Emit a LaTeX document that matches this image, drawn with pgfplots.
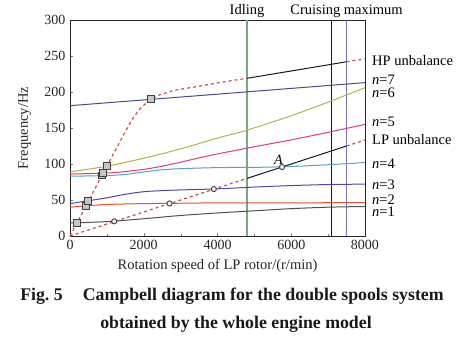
\documentclass[border=0pt]{standalone}
\usepackage{fontspec}
\setmainfont{Liberation Serif}
\usepackage{pgfplots}
\pgfplotsset{compat=1.18}
\definecolor{c1}{HTML}{505050}
\definecolor{c2}{HTML}{E8502A}
\definecolor{c3}{HTML}{5545B0}
\definecolor{c4}{HTML}{5AA0C8}
\definecolor{c5}{HTML}{E03C78}
\definecolor{c6}{HTML}{B8B050}
\definecolor{c7}{HTML}{4A4A90}
\definecolor{unb}{HTML}{C8504A}
\definecolor{idl}{HTML}{72AA86}
\definecolor{cru}{HTML}{8070B8}
\begin{document}
\begin{tikzpicture}
\useasboundingbox (-70pt,-106pt) rectangle (401pt,236pt);
\begin{axis}[
  at={(0pt,0pt)}, anchor=south west,
  scale only axis, width=295pt, height=216pt,
  xmin=0, xmax=8000, ymin=0, ymax=300,
  xtick={0,2000,4000,6000,8000},
  minor xtick={1000,3000,5000,7000},
  ytick={0,50,100,150,200,250,300},
  xtick pos=left, ytick pos=left,
  tick align=inside,
  major tick length=3pt, minor tick length=2pt,
  scaled x ticks=false,
  /pgf/number format/1000 sep={},
  /pgf/number format/assume math mode=true,
  tick label style={font=\fontsize{14}{16}\selectfont, text=black!85},
  xticklabel style={yshift=-1pt},
  yticklabel style={xshift=-1pt},
  axis line style={line width=0.9pt, black!85},
  clip=false,
  every axis plot/.append style={line width=1pt},
]
% vertical operating lines
\addplot[idl, line width=1.1pt] coordinates {(4800,0) (4800,300)};
\addplot[black!90, line width=1pt] coordinates {(7100,0) (7100,300)};
\addplot[cru, line width=1pt] coordinates {(7500,0) (7500,300)};
% modes
\addplot[c1, smooth] coordinates {(0,18) (1000,20) (2000,24) (3000,28.5) (4000,32) (5000,35) (6000,38) (7000,40) (8000,41)};
\addplot[c2, smooth] coordinates {(0,40) (500,42) (1000,43.8) (2000,45) (3000,45.5) (4000,46) (6000,46) (8000,46.5)};
\addplot[c3, smooth] coordinates {(0,45) (500,49) (1000,53) (1500,58) (2000,61.5) (2500,63) (3000,64) (4000,65.5) (5000,68) (6000,70) (7000,71.5) (8000,72)};
\addplot[c4, smooth] coordinates {(0,83) (1000,84) (1500,85.5) (2000,89) (2500,92) (3000,93.5) (4000,95) (5000,95.3) (6000,96.5) (7000,99) (8000,102)};
\addplot[c5, smooth] coordinates {(0,86) (1000,87.5) (1500,89.5) (2000,92.5) (2500,97) (3000,102.5) (3500,108.5) (4000,114) (4500,119) (5000,124) (6000,133.5) (7000,144) (8000,155)};
\addplot[c6, smooth] coordinates {(0,89) (1000,97) (2000,108) (3000,121) (4000,136) (4800,147) (6000,167) (7000,186) (8000,206)};
\addplot[c7] coordinates {(0,181) (8000,213)};
% HP unbalance
\addplot[unb, line width=1.2pt, dash pattern=on 3pt off 3pt] coordinates {(0,0) (1000,97) (1500,145) (1700,163) (1900,177) (2100,186) (2200,190) (2400,195.5) (2800,202) (3200,205.5) (3600,209) (4000,212.5) (4400,216) (4800,219)};
\addplot[black!90] coordinates {(4800,219) (7500,242)};
\addplot[unb, line width=1.2pt, dash pattern=on 3pt off 3pt] coordinates {(7500,242) (8000,246)};
% LP unbalance
\addplot[unb, line width=1.2pt, dash pattern=on 3pt off 3pt] coordinates {(0,0) (4800,80)};
\addplot[black!90] coordinates {(4800,80) (7500,125)};
\addplot[unb, line width=1.2pt, dash pattern=on 3pt off 3pt] coordinates {(7500,125) (8000,133.3)};
% markers
\addplot[only marks, mark=square*, mark size=3.3pt, mark options={fill=gray!45, draw=black!75, line width=0.8pt}] coordinates {(190,18.4) (430,41.7) (490,49) (865,84) (900,87.5) (1000,97) (2200,190)};
\addplot[only marks, mark=*, mark size=2.6pt, mark options={fill=gray!15, draw=black!75, line width=0.9pt}] coordinates {(1200,20.4) (2700,45.2) (3900,65.2) (5750,95.8)};
% labels
\node[anchor=south, inner sep=0pt, font=\fontsize{14}{16}\selectfont\itshape] at (axis cs:5650,99) {A};
\node[anchor=base, inner sep=0pt, font=\fontsize{14.5}{16}\selectfont] at (axis cs:4800,308) {Idling};
\node[anchor=base, inner sep=0pt, font=\fontsize{14.5}{16}\selectfont] at (axis cs:7500,308) {Cruising maximum};
\begin{scope}[every node/.style={anchor=west, inner sep=0pt, xshift=7pt, font=\fontsize{14.5}{16}\selectfont}]
\node at (axis cs:8000,244) {HP unbalance};
\node at (axis cs:8000,217) {\textit{n}=7};
\node at (axis cs:8000,199.5) {\textit{n}=6};
\node at (axis cs:8000,159) {\textit{n}=5};
\node at (axis cs:8000,134) {LP unbalance};
\node at (axis cs:8000,101) {\textit{n}=4};
\node at (axis cs:8000,71) {\textit{n}=3};
\node at (axis cs:8000,51) {\textit{n}=2};
\node at (axis cs:8000,33.5) {\textit{n}=1};
\end{scope}
\end{axis}
\node[rotate=90, anchor=base, inner sep=0pt, font=\fontsize{14.5}{16}\selectfont, text=black!85] at (-42pt,108pt) {Frequency/Hz};
\node[anchor=base, inner sep=0pt, font=\fontsize{14.5}{16}\selectfont, text=black!85] at (147.5pt,-34pt) {Rotation speed of LP rotor/(r/min)};
\node[anchor=base, inner sep=0pt, font=\fontsize{17.8}{20}\selectfont\bfseries, text=black!90] at (162pt,-65pt) {Fig.~5\hspace{20pt}Campbell diagram for the double spools system};
\node[anchor=base, inner sep=0pt, font=\fontsize{17.8}{20}\selectfont\bfseries, text=black!90] at (166pt,-93pt) {obtained by the whole engine model};
\end{tikzpicture}
\end{document}
